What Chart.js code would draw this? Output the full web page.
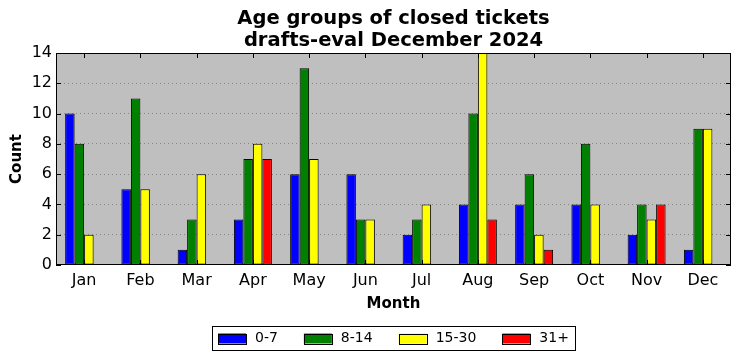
<!DOCTYPE html>
<html>
<head>
<meta charset="utf-8">
<script src="https://cdn.jsdelivr.net/npm/chart.js@4.4.1/dist/chart.umd.min.js"></script>
<style>
    html, body { margin: 0; padding: 0; background: #ffffff; }
    #wrap { width: 741px; height: 361px; }
</style>
</head>
<body>
<div id="wrap"><canvas id="ageChart" width="741" height="361"></canvas></div>
<script>
const months = ['Jan', 'Feb', 'Mar', 'Apr', 'May', 'Jun', 'Jul', 'Aug', 'Sep', 'Oct', 'Nov', 'Dec'];
const seriesNames = ['0-7', '8-14', '15-30', '31+'];
const age0to7 = [10, 5, 1, 3, 6, 6, 2, 4, 4, 4, 2, 1];
const age8to14 = [8, 11, 3, 7, 13, 3, 3, 10, 6, 8, 4, 9];
const age15to30 = [2, 5, 6, 8, 7, 3, 4, 14, 2, 4, 3, 9];
const age31plus = [0, 0, 0, 7, 0, 0, 0, 3, 1, 0, 4, 0];
const yTicks = [0, 2, 4, 6, 8, 10, 12, 14];
const titleLines = ['Age groups of closed tickets', 'drafts-eval December 2024'];

const colors = ['#0000ff', '#008000', '#ffff00', '#ff0000'];
const FONT = "'DejaVu Sans', sans-serif";

// plot background, frame, inner tick marks, title and legend (matplotlib classic look)
const classicPlugin = {
    id: 'classic',
    beforeDraw(chart) {
        const { ctx, chartArea: a } = chart;
        ctx.save();
        ctx.fillStyle = '#bfbfbf';
        ctx.fillRect(a.left, a.top, a.right - a.left, a.bottom - a.top);
        ctx.restore();
    },
    afterDraw(chart) {
        const { ctx, chartArea: a } = chart;
        const xs = chart.scales.x, ys = chart.scales.y;
        ctx.save();
        ctx.strokeStyle = '#000000';
        ctx.lineWidth = 1;
        ctx.strokeRect(Math.round(a.left) + 0.5, Math.round(a.top) + 0.5,
            Math.round(a.right - a.left) - 1, Math.round(a.bottom - a.top) - 1);

        // ticks pointing inward
        ctx.beginPath();
        months.forEach((m, i) => {
            const x = Math.round(xs.getPixelForValue(i)) + 0.5;
            ctx.moveTo(x, a.bottom); ctx.lineTo(x, a.bottom - 5);
            ctx.moveTo(x, a.top); ctx.lineTo(x, a.top + 5);
        });
        yTicks.forEach(v => {
            const y = Math.round(ys.getPixelForValue(v)) + 0.5;
            ctx.moveTo(a.left, y); ctx.lineTo(a.left + 5, y);
            ctx.moveTo(a.right, y); ctx.lineTo(a.right - 5, y);
        });
        ctx.stroke();

        // title
        const cx = (a.left + a.right) / 2;
        ctx.fillStyle = '#000000';
        ctx.font = 'bold 19.5px ' + FONT;
        ctx.textAlign = 'center';
        ctx.textBaseline = 'middle';
        ctx.fillText(titleLines[0], cx, 19);
        ctx.fillText(titleLines[1], cx, 41);

        // legend
        ctx.font = '14px ' + FONT;
        const patchW = 28, patchH = 10, gapText = 9, gapEntry = 26, pad = 6;
        const widths = seriesNames.map(n => patchW + gapText + ctx.measureText(n).width);
        const total = widths.reduce((s, w) => s + w, 0) + gapEntry * (seriesNames.length - 1) + pad * 2;
        const bx = Math.round(cx - total / 2), by = 326, bh = 24;
        ctx.fillStyle = '#ffffff';
        ctx.fillRect(bx, by, total, bh);
        ctx.strokeRect(bx + 0.5, by + 0.5, Math.round(total), bh);
        let x = bx + pad;
        const midY = by + bh / 2 + 0.5;
        seriesNames.forEach((n, i) => {
            ctx.fillStyle = colors[i];
            ctx.fillRect(x, midY - patchH / 2, patchW, patchH);
            ctx.strokeRect(Math.round(x) + 0.5, Math.round(midY - patchH / 2) + 0.5, patchW, patchH);
            ctx.fillStyle = '#000000';
            ctx.textAlign = 'left';
            ctx.fillText(n, x + patchW + gapText, midY);
            x += widths[i] + gapEntry;
        });
        ctx.restore();
    }
};

const seriesData = [age0to7, age8to14, age15to30, age31plus];

new Chart(document.getElementById('ageChart').getContext('2d'), {
    type: 'bar',
    data: {
        labels: months,
        datasets: seriesNames.map((name, i) => ({
            label: name,
            data: seriesData[i],
            backgroundColor: colors[i],
            borderColor: '#000000',
            borderWidth: 1,
            borderSkipped: false,
            categoryPercentage: 0.675,
            barPercentage: 1.0
        }))
    },
    options: {
        responsive: false,
        animation: false,
        devicePixelRatio: 1,
        layout: { padding: { top: 53, right: 10, bottom: 46, left: 0 } },
        plugins: {
            legend: { display: false },
            title: { display: false },
            tooltip: { enabled: false }
        },
        scales: {
            x: {
                grid: { display: false, drawTicks: false },
                border: { display: false },
                ticks: { color: '#000000', font: { family: FONT, size: 16 }, padding: 6 },
                title: {
                    display: true, text: 'Month', color: '#000000',
                    font: { family: FONT, size: 15, weight: 'bold' },
                    padding: { top: 4, bottom: 2 }
                },
                afterFit: s => { s.height = 50; }
            },
            y: {
                min: 0,
                max: 14,
                ticks: {
                    stepSize: 2, color: '#000000', padding: 4,
                    font: { family: FONT, size: 16 }
                },
                grid: {
                    drawTicks: false,
                    color: ctx => (ctx.tick.value === 0 || ctx.tick.value === 14) ? 'rgba(0,0,0,0)' : '#858585',
                    lineWidth: 1
                },
                border: { display: false, dash: [1, 3] },
                title: {
                    display: true, text: 'Count', color: '#000000',
                    font: { family: FONT, size: 15, weight: 'bold' },
                    padding: { top: 8, bottom: 0 }
                },
                afterFit: s => { s.width = 56; }
            }
        }
    },
    plugins: [classicPlugin]
});
</script>
</body>
</html>
